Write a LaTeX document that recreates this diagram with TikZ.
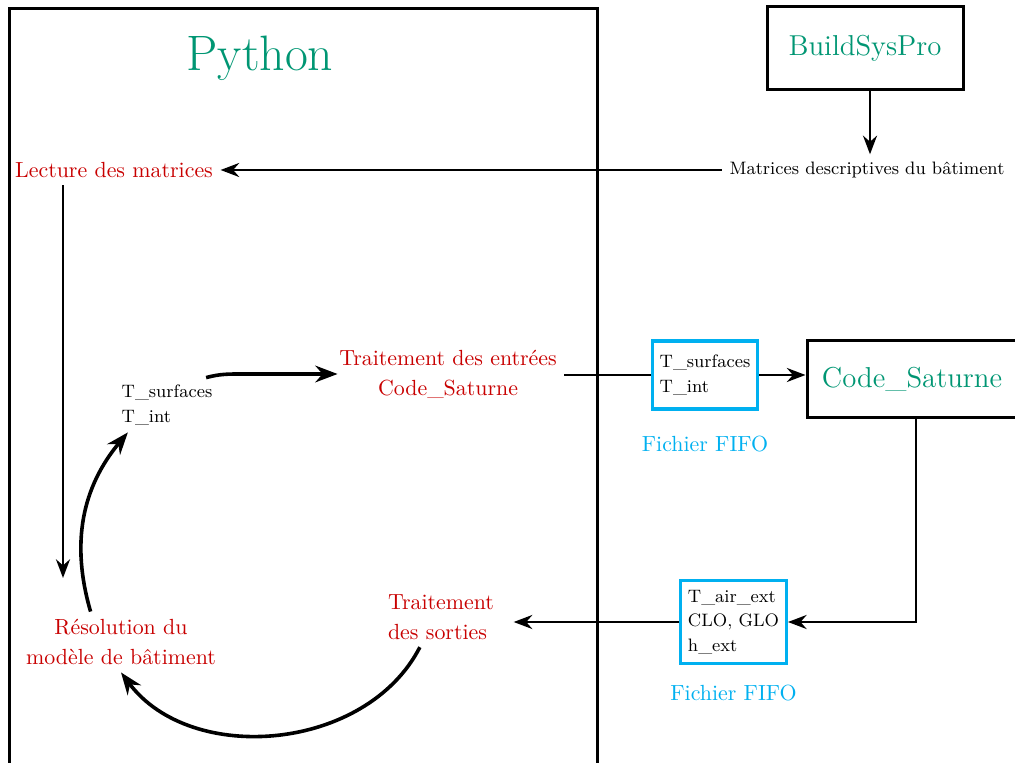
\documentclass[11pt,tikz,border=0pt]{standalone}
\usepackage{tikz}
\usetikzlibrary{positioning,arrows.meta}
\definecolor{softgreen}{RGB}{0,150,115}
\definecolor{taskred}{RGB}{200,0,0}
\definecolor{fifoblue}{RGB}{0,176,240}
\tikzset{
    >=Stealth,
    frame/.style = {draw, line width = 1.5pt},
    soft/.style = {frame, text = softgreen, font = \Large},
    task/.style = {text = taskred, align = center, font = \linespread{1.1}\selectfont},
    vars/.style = {align = left, font = \footnotesize\linespread{1.1}\selectfont},
    fifo/.style = {vars, draw = fifoblue, line width = 1.6pt},
    fifolabel/.style = {text = fifoblue},
    link/.style = {line width = 1.4pt},
    flow/.style = {link, ->},
    bendflow/.style = {->, line width = 1.8pt},
}

\begin{document}
\begin{tikzpicture}[x = 0.5pt, y = 0.5pt]
    \useasboundingbox (0,0) rectangle (1015,-763);

    % Python
    \draw [frame] (9,-9) rectangle (597,-790);
    \node (python) [text = softgreen, font = \Huge] at (260,-58) {Python};

    \node (lecture) [task] at (114,-170) {Lecture des matrices};
    \node (tsurf) [vars] at (167,-405) {T\_surfaces\\T\_int};
    \node (entrees) [task] at (448,-374) {Traitement des entrées\\Code\_Saturne};
    \node (res) [task] at (121,-642) {Résolution du\\modèle de bâtiment};
    \node (sorties) [task, align = left] at (441,-617) {Traitement\\des sorties};
    \coordinate (res_in) at (63,-578);

    % outside
    \node (bsp) [soft, minimum width = 98pt, minimum height = 41.5pt] at (865,-48) {BuildSysPro};
    \node (matdesc) [font = \footnotesize] at (867,-170) {Matrices descriptives du bâtiment};
    \node (cs) [soft, minimum width = 105pt, minimum height = 38.5pt] at (912,-379.5) {Code\_Saturne};

    \node (fifo1) [fifo, minimum width = 51pt, minimum height = 34pt] at (705,-375) {T\_surfaces\\T\_int};
    \node (fifo1lab) [fifolabel, below = 9pt of fifo1] {Fichier FIFO};
    \node (fifo2) [fifo, minimum width = 52.5pt, minimum height = 41.5pt] at (733.5,-622) {T\_air\_ext\\CLO, GLO\\h\_ext};
    \node (fifo2lab) [fifolabel, below = 6pt of fifo2] {Fichier FIFO};

    \draw [flow] ([xshift = 2.5pt]bsp.south) -- ([xshift = 2.5pt]bsp.south |- matdesc.north);
    \draw [flow] (matdesc.west) -- (lecture.east);
    \draw [flow] (lecture.south -| res_in) -- (res_in);
    \draw [bendflow] (res.135) to [bend left = 28] (tsurf.215);
    \draw [bendflow] (tsurf.35) to [out = 15, in = 180] ([xshift = -45pt]entrees.west) -- ([xshift = 3pt]entrees.west);
    \draw [link] (fifo1.west -| entrees.east) -- (fifo1.west);
    \draw [flow] (fifo1.east) -- (fifo1.east -| cs.west);
    \draw [flow] ([xshift = 2pt]cs.south) |- (fifo2.east);
    \draw [flow] (fifo2.west) -- ([xshift = 6pt]fifo2.west -| sorties.east);
    \draw [bendflow] (sorties.235) to [bend left = 58] (res.south);
\end{tikzpicture}
\end{document}
